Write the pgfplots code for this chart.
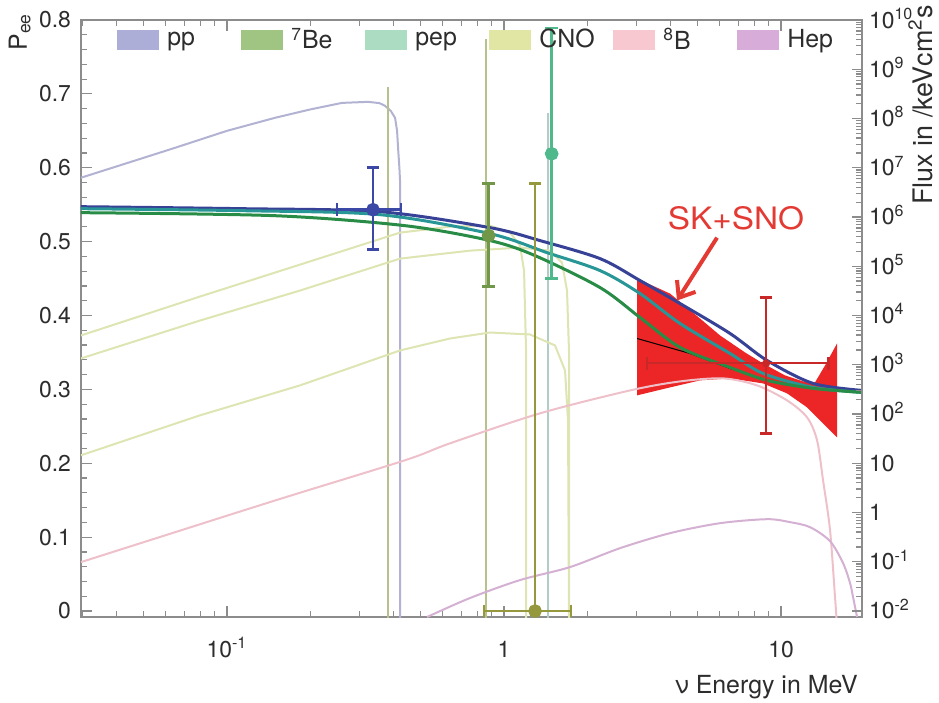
\documentclass[border=0pt]{standalone}
\usepackage{pgfplots}
\pgfplotsset{compat=1.18}
\usepackage{fontspec}
\setmainfont{TeX Gyre Heros}
\usetikzlibrary{arrows.meta}

\definecolor{axgray}{RGB}{140,140,140}
\definecolor{labgray}{RGB}{45,45,45}
\definecolor{ppc}{RGB}{172,174,216}
\definecolor{bec}{RGB}{160,196,130}
\definecolor{pepc}{RGB}{172,220,194}
\definecolor{cnoc}{RGB}{226,230,164}
\definecolor{bc}{RGB}{248,200,208}
\definecolor{hepc}{RGB}{216,172,216}
\definecolor{ppline}{RGB}{178,178,210}
\definecolor{beline}{RGB}{182,194,140}
\definecolor{pepline}{RGB}{178,205,195}
\definecolor{cnoline}{RGB}{222,228,178}
\definecolor{bline}{RGB}{238,192,202}
\definecolor{hepline}{RGB}{212,176,210}
\definecolor{navyc}{RGB}{55,65,150}
\definecolor{tealc}{RGB}{40,150,150}
\definecolor{greenc}{RGB}{40,140,70}
\definecolor{ppdat}{RGB}{60,72,165}
\definecolor{bedat}{RGB}{112,152,72}
\definecolor{pepdat}{RGB}{80,185,140}
\definecolor{cnodat}{RGB}{150,152,62}
\definecolor{bdat}{RGB}{200,40,40}
\definecolor{bandred}{RGB}{236,38,38}
\definecolor{skred}{RGB}{228,58,52}

\pgfplotsset{
  swatch/.style={legend image code/.code={\fill[##1, draw=none] (0bp,-5bp) rectangle (21bp,5bp);}},
  spec/.style={line width=1bp, forget plot},
  pee/.style={line width=1.5bp, smooth, forget plot},
  datpt/.style={mark=*, mark size=2.7bp, line width=1.4bp, forget plot,
    error bars/x dir=both, error bars/y dir=both,
    error bars/x explicit, error bars/y explicit,
    error bars/error bar style={line width=1.4bp},
    error bars/error mark options={rotate=90, mark size=3.2bp, line width=1.4bp}},
}

\begin{document}
\begin{tikzpicture}
\begin{axis}[
  scale only axis, width=390.5bp, height=298.5bp,
  clip mode=individual,
  xmode=log, xmin=0.0297, xmax=19.6,
  ymin=-0.0081, ymax=0.8,
  xtick={0.1,1,10}, xticklabels={10\textsuperscript{-1},1,10},
  minor xtick={0.03,0.04,0.05,0.06,0.07,0.08,0.09,0.2,0.3,0.4,0.5,0.6,0.7,0.8,0.9,2,3,4,5,6,7,8,9},
  ytick={0,0.1,0.2,0.3,0.4,0.5,0.6,0.7,0.8}, minor y tick num=4,
  ytick pos=left,
  tick align=inside,
  major tick length=5.5bp, minor tick length=3bp,
  axis line style={draw=axgray, line width=0.7bp},
  every tick/.style={draw=axgray, line width=0.6bp},
  tick label style={font=\fontsize{11.5}{13}\selectfont, text=labgray},
  /pgf/number format/assume math mode=true,
  yticklabel style={/pgf/number format/fixed, /pgf/number format/precision=1, xshift=-1.5bp},
  xticklabel style={anchor=base, yshift=-20bp},
  swatch,
  legend columns=6,
  legend style={at={(0.0461,0.9665)}, anchor=west, draw=none, fill=none,
    inner sep=0pt, font=\fontsize{12.5}{14}\selectfont, text=labgray,
    nodes={inner sep=0pt},
    /tikz/every odd column/.append style={column sep=4bp}},
]
\addlegendimage{fill=ppc}
\addlegendentry{\makebox[37bp][l]{pp}}
\addlegendimage{fill=bec}
\addlegendentry{\makebox[37bp][l]{\textsuperscript{7}Be}}
\addlegendimage{fill=pepc}
\addlegendentry{\makebox[37bp][l]{pep}}
\addlegendimage{fill=cnoc}
\addlegendentry{\makebox[37bp][l]{CNO}}
\addlegendimage{fill=bc}
\addlegendentry{\makebox[37bp][l]{\textsuperscript{8}B}}
\addlegendimage{fill=hepc}
\addlegendentry{\makebox[37bp][l]{Hep}}

% SK+SNO band
\addplot[fill=bandred, draw=none, forget plot] coordinates {
  (3.0207,0.4500) (3.9746,0.4297) (5.1002,0.3959) (6.0229,0.3730) (7.4131,0.3500)
  (8.6096,0.3351) (10.337,0.3189) (12.006,0.3108) (13.266,0.3095) (14.416,0.3324)
  (15.928,0.3622) (15.928,0.2351) (13.829,0.2581) (12.412,0.2757) (10.512,0.2946)
  (8.6096,0.3081) (6.5450,0.3149) (5.1002,0.3122) (3.9746,0.3027) (3.0207,0.2919)} -- cycle;
\addplot[black, line width=0.5bp, forget plot] coordinates {
  (3.0207,0.3689) (4.6946,0.3486) (6.5450,0.3284) (8.3986,0.3149)};

% spectra
\addplot[spec, ppline] coordinates {
  (0.0297,0.5865) (0.045,0.608) (0.0649,0.6270) (0.10,0.650) (0.1490,0.6676)
  (0.2000,0.679) (0.2602,0.6878) (0.3229,0.6892) (0.3550,0.6875) (0.3719,0.6838)
  (0.3900,0.6770) (0.4042,0.6676) (0.4110,0.650) (0.4144,0.6270) (0.4190,0.600)
  (0.4212,0.5824) (0.4212,-0.02)};
\addplot[spec, beline] coordinates {(0.381,-0.02) (0.381,0.7095)};
\addplot[spec, beline] coordinates {(0.862,-0.02) (0.862,0.7743)};
\addplot[spec, pepline] coordinates {(1.44,-0.02) (1.44,0.6743)};
\addplot[spec, cnoline] coordinates {
  (0.0297,0.3730) (0.0799,0.4257) (0.1834,0.4689) (0.4212,0.5122) (0.6383,0.5203)
  (0.8902,0.5216) (1.0511,0.5122) (1.1424,0.4946) (1.1809,0.4608) (1.2007,0.3527)
  (1.2007,-0.02)};
\addplot[spec, cnoline] coordinates {
  (0.0297,0.3419) (0.0799,0.3932) (0.1834,0.4338) (0.4212,0.4770) (0.7536,0.4878)
  (1.1424,0.4919) (1.4659,0.4878) (1.6193,0.4716) (1.6880,0.4338) (1.7166,0.35)
  (1.7166,-0.02)};
\addplot[spec, cnoline] coordinates {
  (0.0297,0.2108) (0.0799,0.2649) (0.1834,0.3054) (0.4212,0.3527) (0.6383,0.3689)
  (0.8902,0.3770) (1.2413,0.3743) (1.5279,0.3595) (1.6602,0.3257) (1.7022,0.2581)
  (1.7166,-0.02)};
\addplot[spec, bline, smooth] coordinates {
  (0.0297,0.0662) (0.0527,0.0959) (0.1502,0.1500) (0.4391,0.2041) (0.6383,0.2270)
  (1.3490,0.2676) (2.8500,0.2986) (4.3190,0.3108) (6.174,0.3149) (8.192,0.3054)
  (10.512,0.2851) (12.412,0.2622) (13.489,0.2311) (14.178,0.1770) (15.026,0.1095)
  (15.663,0.0189) (15.928,-0.02)};
\addplot[spec, hepline, smooth] coordinates {
  (0.5273,-0.0081) (0.7536,0.0176) (1.1424,0.0419) (1.7309,0.0595) (2.6238,0.0851)
  (3.9746,0.1054) (6.0229,0.1189) (8.8999,0.1243) (10.777,0.1203) (12.726,0.1135)
  (15.026,0.0946) (16.743,0.0649) (17.747,0.0378) (18.195,0.0189) (18.81,-0.0081)};

% survival probability curves
\addplot[pee, navyc] coordinates {
  (0.0297,0.5473) (0.1133,0.5446) (0.3567,0.5405) (0.8902,0.5189) (1.3490,0.5014)
  (2.2220,0.4770) (3.0974,0.4473) (4.3190,0.4162) (6.5450,0.3757) (8.8999,0.3392)
  (13.048,0.3081) (19.61,0.2986)};
\addplot[pee, tealc] coordinates {
  (0.0297,0.5446) (0.1133,0.5419) (0.3567,0.5365) (0.8902,0.5108) (1.4295,0.4851)
  (2.2220,0.4608) (3.0974,0.4297) (4.3190,0.3892) (6.5450,0.3486) (8.6096,0.3216)
  (13.048,0.3027) (19.61,0.2959)};
\addplot[pee, greenc] coordinates {
  (0.0297,0.5392) (0.1490,0.5351) (0.4391,0.5216) (0.8902,0.5014) (1.2937,0.4811)
  (2.2220,0.4378) (3.0974,0.3973) (4.3190,0.3568) (6.5450,0.3297) (8.8999,0.3122)
  (13.048,0.3014) (19.61,0.2959)};

% measurements
\addplot[datpt, color=ppdat] coordinates {(0.3365,0.5432) += (0.0884,0.0568) -= (0.0870,0.0540)};
\addplot[datpt, color=bedat] coordinates {(0.88,0.5081) += (0,0.0703) -= (0,0.0689)};
\addplot[datpt, color=pepdat] coordinates {(1.486,0.6189) += (0,0.1703) -= (0,0.1689)};
\addplot[datpt, color=cnodat] coordinates {(1.294,0) += (0.452,0.5784) -= (0.447,0)};
\addplot[datpt, color=bdat, mark size=1.5bp, line width=1bp, error bars/error bar style={line width=1bp}] coordinates {(8.83,0.3351) += (5.97,0.0892) -= (5.55,0.0946)};

% annotation
\node[text=skred, font=\fontsize{15.5}{17}\selectfont, xscale=1.08] at (rel axis cs:0.8387,0.6683) {SK+SNO};
\draw[skred, line width=2bp, -{Straight Barb[length=7bp, width=11bp]}] (axis cs:5.875,0.5054) -- (axis cs:4.212,0.4203);

% axis labels
\node[rotate=90, anchor=south east, inner sep=0pt, text=labgray, font=\fontsize{12.5}{14}\selectfont] at (rel axis cs:-0.064,1.0117) {P\textsubscript{ee}};
\node[anchor=base east, inner sep=0pt, text=labgray, font=\fontsize{12.5}{14}\selectfont] at (rel axis cs:0.9949,-0.1273) {ν Energy in MeV};
\node[rotate=90, anchor=base east, inner sep=0pt, text=labgray, font=\fontsize{13.5}{15}\selectfont] at (rel axis cs:1.0897,1.0252) {Flux in /keVcm\textsuperscript{2}s};

\coordinate (bbsw) at (rel axis cs:-0.1037,-0.1424);
\coordinate (bbne) at (rel axis cs:1.0986,1.0335);
\end{axis}

\begin{axis}[
  scale only axis, width=390.5bp, height=298.5bp,
  xmode=log, xmin=0.0297, xmax=19.6, hide x axis,
  ymode=log, ymin=0.00755, ymax=1e10,
  axis y line*=right,
  tick align=inside,
  major tick length=5bp, minor tick length=3bp,
  axis line style={draw=axgray, line width=0.7bp},
  every tick/.style={draw=axgray, line width=0.6bp},
  tick label style={font=\fontsize{11.5}{13}\selectfont, text=labgray},
  ytick={1e-2,1e-1,1,10,1e2,1e3,1e4,1e5,1e6,1e7,1e8,1e9,1e10},
  yticklabels={10\textsuperscript{-2},10\textsuperscript{-1},1,10,10\textsuperscript{2},10\textsuperscript{3},10\textsuperscript{4},10\textsuperscript{5},10\textsuperscript{6},10\textsuperscript{7},10\textsuperscript{8},10\textsuperscript{9},10\textsuperscript{10}},
  yticklabel style={anchor=base west, yshift=-4bp},
  minor ytick={2e-2,3e-2,4e-2,5e-2,6e-2,7e-2,8e-2,9e-2,
    2e-1,3e-1,4e-1,5e-1,6e-1,7e-1,8e-1,9e-1,
    2,3,4,5,6,7,8,9,
    20,30,40,50,60,70,80,90,
    2e2,3e2,4e2,5e2,6e2,7e2,8e2,9e2,
    2e3,3e3,4e3,5e3,6e3,7e3,8e3,9e3,
    2e4,3e4,4e4,5e4,6e4,7e4,8e4,9e4,
    2e5,3e5,4e5,5e5,6e5,7e5,8e5,9e5,
    2e6,3e6,4e6,5e6,6e6,7e6,8e6,9e6,
    2e7,3e7,4e7,5e7,6e7,7e7,8e7,9e7,
    2e8,3e8,4e8,5e8,6e8,7e8,8e8,9e8,
    2e9,3e9,4e9,5e9,6e9,7e9,8e9,9e9},
]
\addplot[draw=none, forget plot] coordinates {(1,1)};
\end{axis}

\pgfresetboundingbox
\path[use as bounding box] (bbsw) rectangle (bbne);
\end{tikzpicture}
\end{document}
